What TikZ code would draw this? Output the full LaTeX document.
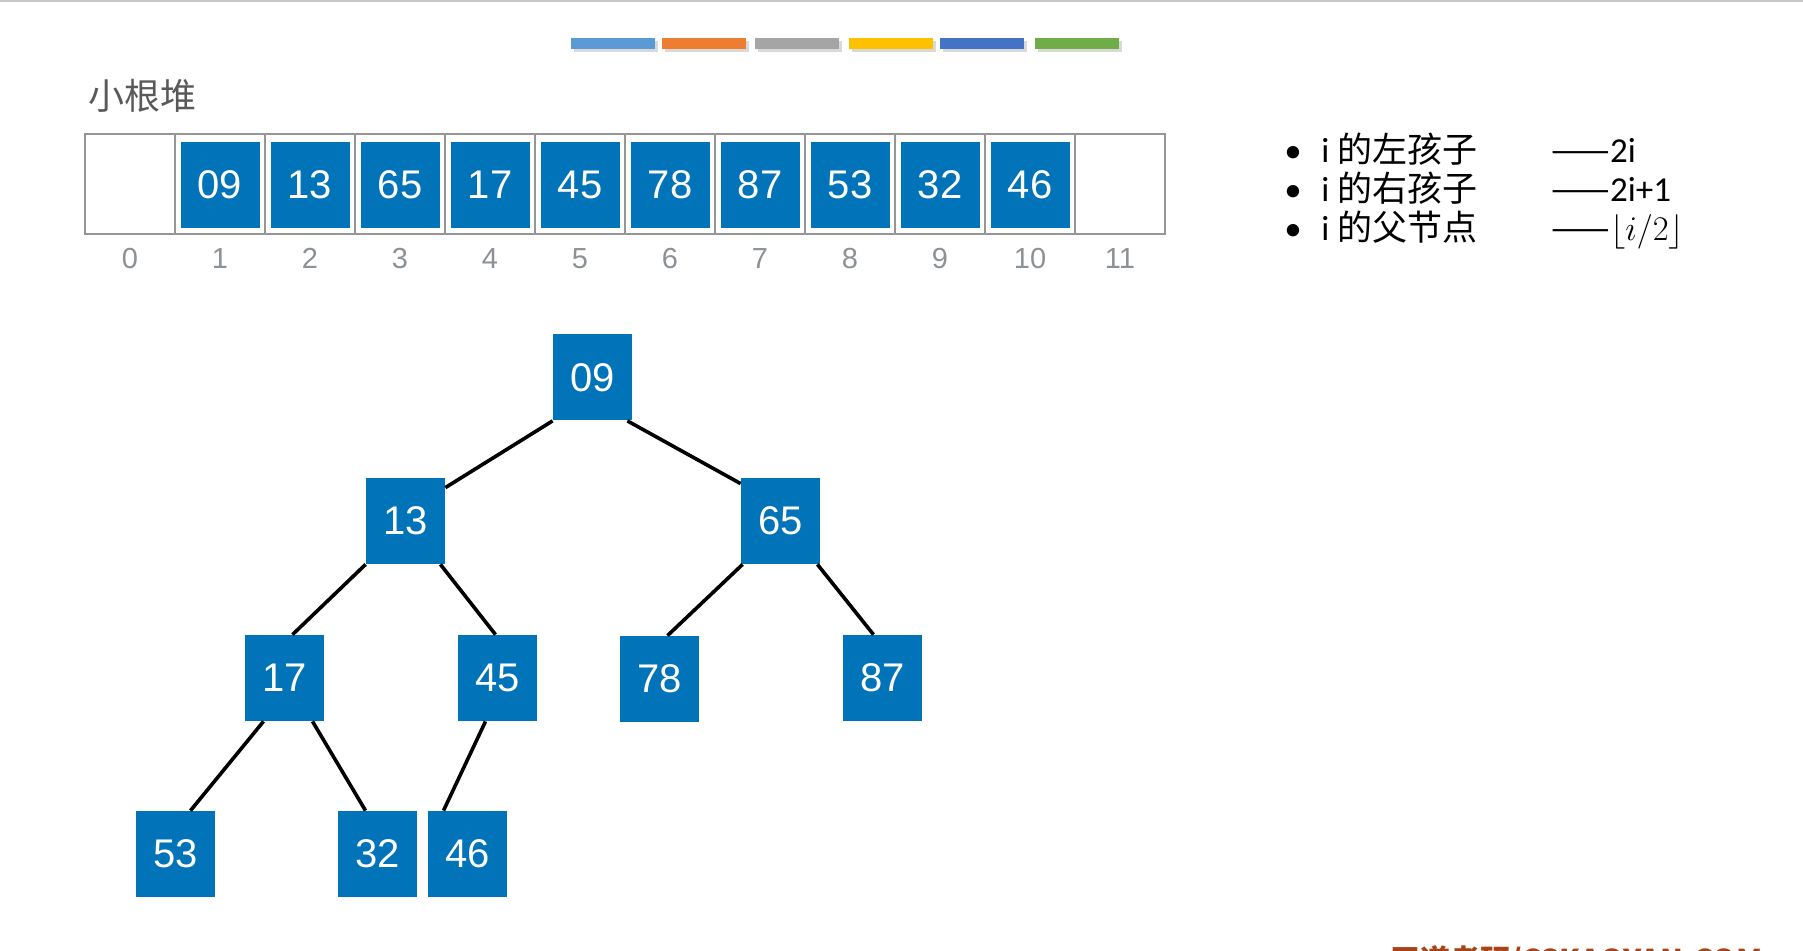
\documentclass[tikz,border=0pt]{standalone}
\usepackage{fontspec}
\setmainfont{Liberation Sans}
\newfontfamily\cjk{Noto Sans CJK SC}
\newfontfamily\bodyfont{Carlito}
\usepackage{tikz}
\usetikzlibrary{calc}
\usepackage{xcolor}
\definecolor{keyblue}{RGB}{0,115,185}
\definecolor{cellgray}{RGB}{150,150,150}
\definecolor{idxgray}{RGB}{140,145,150}
\definecolor{titlegray}{RGB}{89,89,89}
\definecolor{brandbrown}{RGB}{168,67,20}
\definecolor{barA}{HTML}{5B9BD5}
\definecolor{barB}{HTML}{ED7D31}
\definecolor{barC}{HTML}{A5A5A5}
\definecolor{barD}{HTML}{FFC000}
\definecolor{barE}{HTML}{4472C4}
\definecolor{barF}{HTML}{70AD47}

\begin{document}
\begin{tikzpicture}[x=0.5pt,y=-0.5pt]
  \tikzset{
key/.style={fill=keyblue, text=white,
  inner sep=0,
    minimum width=39.5pt,
    minimum height=43pt,
    font=\fontsize{20}{24}\selectfont},
cell/.style={draw=cellgray, line width=0.7pt,
    inner sep=0, minimum width=45pt, minimum height=50pt},
idx/.style={text=idxgray, inner sep=0, text height=0.72em, text depth=0pt,
    font=\fontsize{14.5}{17}\selectfont},
item/.style={inner sep=0, text height=0.75em, text depth=0.15em,
    font=\bodyfont\fontsize{17.5}{20}\selectfont},
link/.style={line width=1.8pt, black},
}
  \useasboundingbox (0,0) rectangle (1803,951);

  % slide frame and colour bars
  \draw [line width=1pt, black!22] (0,1) -- (1803,1);
  \foreach \x/\c in {571/barA, 662/barB, 755/barC, 849/barD, 940/barE, 1035/barF} {
    \fill [black!15] (\x+3,41) rectangle +(84,11);
    \fill [\c] (\x,38) rectangle +(84,11);
  }

  % title
  \node [anchor=west, inner sep=0, text=titlegray, font=\cjk\fontsize{18}{22}\selectfont] (title) at (88,96) {小根堆};

  % array
  \foreach \k in {0,...,11} {
    \node [cell] (c\k) at (130+90*\k,184) {};
    \node [idx] (l\k) at (130+90*\k,261) {\k};
  }
  \foreach \v [count=\k] in {09,13,65,17,45,78,87,53,32,46}
    \node [key] (a\k) at ($(c\k)+(0,1)$) {\v};

  % index rules
  \foreach \t/\f [count=\r] in {左孩子/2i, 右孩子/2i+1, 父节点/{$\lfloor i/2\rfloor$}} {
    \node [item] (b\r) at (1293,118+39*\r) {•};
    \node [item, anchor=west] (t\r) at (1321,118+39*\r) {i {\cjk 的\t}};
    \node [item, anchor=west] (f\r) at (1551,118+39*\r) {{\cjk ——}\f};
  }

  % tree
  \node [key] (n09) at (592.5,377.5) {09};
  \node [key] (n13) at (405.5,521) {13};
  \node [key] (n65) at (780.5,521) {65};
  \node [key] (n17) at (284.5,678) {17};
  \node [key] (n45) at (497.5,678) {45};
  \node [key] (n78) at (659.5,679) {78};
  \node [key] (n87) at (882.5,678) {87};
  \node [key] (n53) at (175.5,854) {53};
  \node [key] (n32) at (377.5,854) {32};
  \node [key] (n46) at (467.5,854) {46};

  \draw [link] (n09.south west) -- ($(n13.north east)+(0,10)$);
  \draw [link] ($(n09.south east)+(-5,0)$) -- ($(n65.north west)+(0,6)$);
  \draw [link] (n13.south west) -- ($(n17.north)+(8,0)$);
  \draw [link] ($(n13.south east)+(-5,0)$) -- ($(n45.north)+(-2,0)$);
  \draw [link] ($(n65.south west)+(2,0)$) -- ($(n78.north)+(8,0)$);
  \draw [link] ($(n65.south east)+(-3,0)$) -- ($(n87.north)+(-9,0)$);
  \draw [link] ($(n17.south)+(-21,0)$) -- ($(n53.north)+(15,0)$);
  \draw [link] ($(n17.south)+(28,0)$) -- ($(n32.north)+(-12,0)$);
  \draw [link] ($(n45.south)+(-12,0)$) -- ($(n46.north)+(-24,0)$);

  % footer, cut by the slide edge
  \begin{scope}
    \clip (0,0) rectangle (1803,951);
    \node [anchor=north west, inner sep=0, text=brandbrown, font=\cjk\bfseries\fontsize{15}{18}\selectfont] (brand) at (1390,945) {王道考研/CSKAOYAN.COM};
  \end{scope}
\end{tikzpicture}
\end{document}
